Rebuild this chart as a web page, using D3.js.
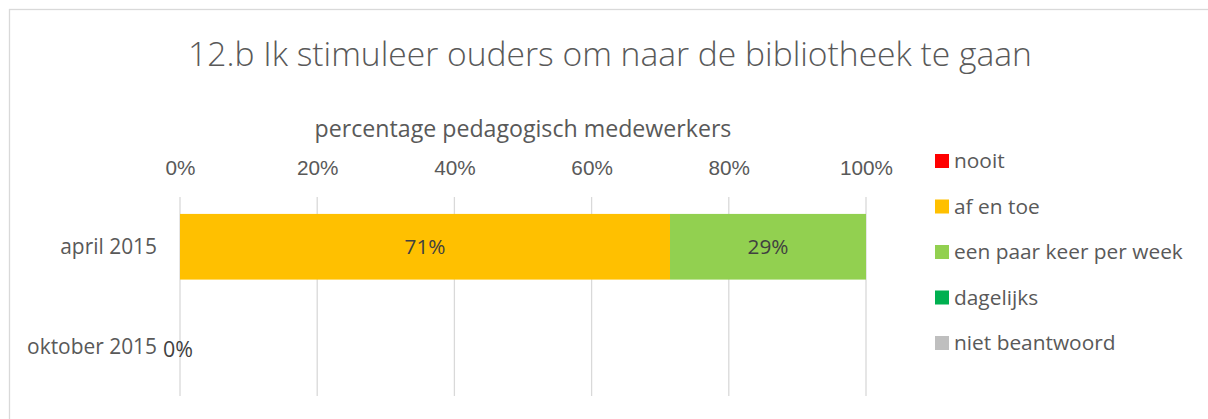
<!DOCTYPE html>
<html>
<head>
<meta charset="utf-8">
<script src="https://cdn.jsdelivr.net/npm/d3@7"></script>
<style>
  html, body { margin: 0; padding: 0; background: #fff; }
  svg { display: block; font-family: "Open Sans", "DejaVu Sans", sans-serif; }
</style>
</head>
<body>
<div id="chart"></div>
<script>
const width = 1208;
const height = 419;

const title = "12.b Ik stimuleer ouders om naar de bibliotheek te gaan";
const axisTitle = "percentage pedagogisch medewerkers";
const categories = ["april 2015", "oktober 2015"];
const seriesNames = ["nooit", "af en toe", "een paar keer per week", "dagelijks", "niet beantwoord"];
const seriesColors = ["#ff0000", "#ffc000", "#92d050", "#00b050", "#bfbfbf"];
// share per category, in series order
const aprilValues = [0, 0.7143, 0.2857, 0, 0];
const oktoberValues = [0, 0, 0, 0, 0];
const ticks = [0, 0.2, 0.4, 0.6, 0.8, 1];

const values = [aprilValues, oktoberValues];
const pct = d3.format(".0%");

const svg = d3.select("#chart").append("svg")
  .attr("width", width)
  .attr("height", height);

// chart border
svg.append("rect")
  .attr("x", 9.5).attr("y", 9.5)
  .attr("width", width + 10).attr("height", height + 10)
  .attr("fill", "none")
  .attr("stroke", "#d9d9d9")
  .attr("stroke-width", 1.3);

// scale font of a selection so that one of its nodes gets the measured width
function fit(sel, target, idx = 0) {
  const node = sel.nodes()[idx];
  const w = node.getComputedTextLength();
  const fs = parseFloat(d3.select(node).style("font-size"));
  sel.style("font-size", (fs * target / w) + "px");
}

const x = d3.scaleLinear().domain([0, 1]).range([180, 866]);
const y = d3.scaleBand().domain(categories).range([197, 396]).paddingInner(0.34).paddingOuter(0.17);

// title
const t = svg.append("text")
  .attr("x", 610).attr("y", 66)
  .attr("text-anchor", "middle")
  .style("font-size", "32px")
  .style("font-weight", 300)
  .style("fill", "#595959")
  .text(title);
fit(t, 844);

const at = svg.append("text")
  .attr("x", 523).attr("y", 137)
  .attr("text-anchor", "middle")
  .style("font-size", "20px")
  .style("fill", "#595959")
  .text(axisTitle);
fit(at, 417);

// gridlines
svg.append("g")
  .selectAll("line")
  .data(ticks)
  .join("line")
  .attr("x1", d => x(d)).attr("x2", d => x(d))
  .attr("y1", 197).attr("y2", 396)
  .attr("stroke", "#d9d9d9")
  .attr("stroke-width", 1.3);

// top axis labels
const axisG = svg.append("g").attr("transform", "translate(0,175)");
axisG.call(d3.axisTop(x).tickValues(ticks).tickFormat(d3.format(".0%")).tickSize(0).tickPadding(0));
axisG.select(".domain").remove();
const tickText = axisG.selectAll("text")
  .attr("font-family", null)
  .attr("font-size", null)
  .style("font-size", "17px")
  .style("fill", "#595959");
fit(tickText, 53, 5);

// category labels
const catText = svg.append("g")
  .selectAll("text")
  .data(categories)
  .join("text")
  .attr("x", 157)
  .attr("y", d => y(d) + y.bandwidth() / 2)
  .attr("dy", "0.35em")
  .attr("text-anchor", "end")
  .style("font-size", "17px")
  .style("fill", "#595959")
  .text(d => d);
fit(catText, 130, 1);

// stacked bars
const stacked = categories.map((c, i) => {
  let acc = 0;
  return values[i].map((v, j) => {
    const seg = { cat: c, series: j, x0: acc, x1: acc + v, v };
    acc += v;
    return seg;
  });
});

const segs = stacked.flat();
svg.append("g")
  .selectAll("rect")
  .data(segs.filter(d => d.v > 0))
  .join("rect")
  .attr("x", d => x(d.x0))
  .attr("y", d => y(d.cat))
  .attr("width", d => x(d.x1) - x(d.x0))
  .attr("height", y.bandwidth())
  .attr("fill", d => seriesColors[d.series]);

const barText = svg.append("g")
  .selectAll("text")
  .data(segs.filter(d => d.v > 0))
  .join("text")
  .attr("x", d => (x(d.x0) + x(d.x1)) / 2)
  .attr("y", d => y(d.cat) + y.bandwidth() / 2)
  .attr("dy", "0.35em")
  .attr("text-anchor", "middle")
  .style("font-size", "17px")
  .style("fill", "#404040")
  .text(d => pct(d.v));
fit(barText, 41);

// empty category: a single 0% label
categories.forEach((c, i) => {
  const total = d3.sum(values[i]);
  if (total === 0) {
    const z = svg.append("text")
      .attr("x", x(0) - 2)
      .attr("y", y(c) + y.bandwidth() / 2 + 3)
      .attr("dy", "0.35em")
      .attr("text-anchor", "middle")
      .style("font-size", "18px")
      .style("fill", "#404040")
      .text(pct(0));
    fit(z, 30);
  }
});

// legend
const legend = svg.append("g")
  .selectAll("g")
  .data(seriesNames)
  .join("g")
  .attr("transform", (d, i) => `translate(935,${161 + i * 45.5})`);

legend.append("rect")
  .attr("x", 0).attr("y", -7)
  .attr("width", 14).attr("height", 14)
  .attr("fill", (d, i) => seriesColors[i]);

const legText = legend.append("text")
  .attr("x", 19)
  .attr("dy", "0.35em")
  .style("font-size", "18px")
  .style("fill", "#595959")
  .text(d => d);
fit(legText, 229, 2);
</script>
</body>
</html>
